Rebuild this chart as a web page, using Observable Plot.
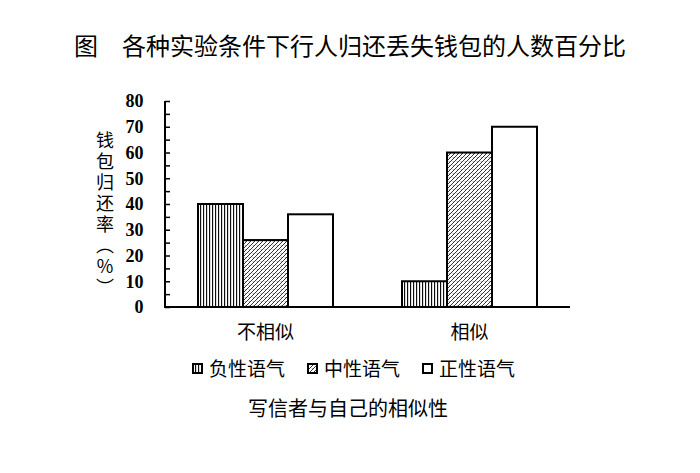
<!DOCTYPE html>
<html><head><meta charset="utf-8">
<script src="https://cdn.jsdelivr.net/npm/d3@7"></script>
<script src="https://cdn.jsdelivr.net/npm/@observablehq/plot@0.6"></script>
<style>
body{margin:0;background:#fff;font-family:"Noto Sans CJK SC","Noto Sans",sans-serif;color:#000;}
#wrap{position:relative;width:700px;height:473px;overflow:hidden;}
#title{box-sizing:border-box;height:80px;padding-top:33px;line-height:24px;font-size:24px;text-align:center;padding-left:0;}
#chart{height:270px;}
#legend{box-sizing:border-box;height:36px;display:flex;align-items:center;padding-left:192px;font-size:19px;line-height:36px;}
.item{display:flex;align-items:center;margin-right:22px;}
.item svg{margin-right:6px;}
#caption{box-sizing:border-box;height:44px;line-height:44px;font-size:20px;text-align:center;padding-right:4px;}
#ylabel{position:absolute;left:96px;top:131px;writing-mode:vertical-rl;text-orientation:upright;font-size:18px;letter-spacing:3px;line-height:18px;}
</style></head><body>
<div id="wrap">
  <div id="title">图　各种实验条件下行人归还丢失钱包的人数百分比</div>
  <div id="chart"></div>
  <div id="legend"></div>
  <div id="caption">写信者与自己的相似性</div>
  <div id="ylabel">钱包归还率（％）</div>
</div>
<script>
// ---- data ----
const groups = ["不相似", "相似"];
const series = ["负性语气", "中性语气", "正性语气"];
const negativeTone = [40, 10];
const neutralTone = [26, 60];
const positiveTone = [36, 70];
const yTickValues = [0, 10, 20, 30, 40, 50, 60, 70, 80];
const yMinorTickValues = [0, 5, 10, 15, 20, 25, 30, 35, 40, 45, 50, 55, 60, 65, 70, 75, 80];
const fills = ["url(#pat-vert)", "url(#pat-hatch)", "#ffffff"];

const seriesValues = [negativeTone, neutralTone, positiveTone];
const data = groups.flatMap((g, i) => series.map((s, j) => ({group: g, series: s, value: seriesValues[j][i]})));

function makePlot(axisShift) {
  return Plot.plot({
    width: 700,
    height: 270,
    marginLeft: 165,
    marginRight: 130,
    marginTop: 21,
    marginBottom: 43,
    style: {background: "#fff", color: "#000"},
    fx: {domain: groups, paddingInner: 0.333, paddingOuter: 0.159, label: null},
    x: {domain: series, padding: 0, axis: null},
    y: {domain: [0, 80], label: null},
    color: {domain: series, range: fills},
    marks: [
      Plot.barY(data, {fx: "group", x: "series", y: "value", fill: "series", stroke: "#000", strokeWidth: 2, inset: 0}),
      Plot.axisY({ticks: yMinorTickValues, tickSize: -5, text: null, label: null, stroke: "#000", strokeWidth: 1.5, dx: axisShift}),
      Plot.axisY({ticks: yTickValues, tickSize: 0, tickPadding: 22, label: null, fontSize: 18, fontWeight: "bold", fontFamily: "Liberation Serif, DejaVu Serif, serif", fill: "#000", dx: axisShift}),
      Plot.axisFx({anchor: "bottom", tickSize: 0, tickPadding: 18, label: null, fontSize: 19, fontFamily: "Noto Sans CJK SC, sans-serif", fill: "#000"})
    ]
  });
}

// the y axis belongs to the first facet; shift it back to the frame's left edge
const probe = makePlot(0);
const probeFx = probe.scale("fx");
const shift = probeFx.range[0] - probeFx.apply(groups[0]);
const plot = makePlot(shift);

// patterns
const svg = d3.select(plot);
const defs = svg.insert("defs", ":first-child");
const pv = defs.append("pattern").attr("id", "pat-vert").attr("patternUnits", "userSpaceOnUse").attr("width", 3).attr("height", 10);
pv.append("rect").attr("width", 3).attr("height", 10).attr("fill", "#fff");
pv.append("line").attr("x1", 0.6).attr("x2", 0.6).attr("y1", 0).attr("y2", 10).attr("stroke", "#000").attr("stroke-width", 1.1);
const ph = defs.append("pattern").attr("id", "pat-hatch").attr("patternUnits", "userSpaceOnUse").attr("width", 4).attr("height", 4);
ph.append("rect").attr("width", 4).attr("height", 4).attr("fill", "#fff");
ph.append("path").attr("d", "M-1,5 L5,-1 M-1,1 L1,-1 M3,5 L5,3").attr("stroke", "#000").attr("stroke-width", 0.8);
ph.append("path").attr("d", "M0.6,0.9 L1.6,1.9").attr("stroke", "#444").attr("stroke-width", 0.6);

// axis lines through the plot's scales
const ys = plot.scale("y");
const fxs = plot.scale("fx");
const [xr0, xr1] = fxs.range;
svg.append("line").attr("x1", xr0).attr("x2", xr1).attr("y1", ys.apply(0)).attr("y2", ys.apply(0)).attr("stroke", "#000").attr("stroke-width", 2);
svg.append("line").attr("x1", xr0).attr("x2", xr0).attr("y1", ys.apply(0) + 1).attr("y2", ys.apply(80)).attr("stroke", "#000").attr("stroke-width", 2);

document.getElementById("chart").appendChild(plot);

// legend
const legend = d3.select("#legend");
series.forEach((s, i) => {
  const item = legend.append("div").attr("class", "item");
  const sw = item.append("svg").attr("width", 11).attr("height", 11);
  sw.append("rect").attr("x", 1).attr("y", 1).attr("width", 9).attr("height", 9).attr("fill", fills[i]).attr("stroke", "#000").attr("stroke-width", 2);
  item.append("span").text(s);
});
</script>
</body></html>
